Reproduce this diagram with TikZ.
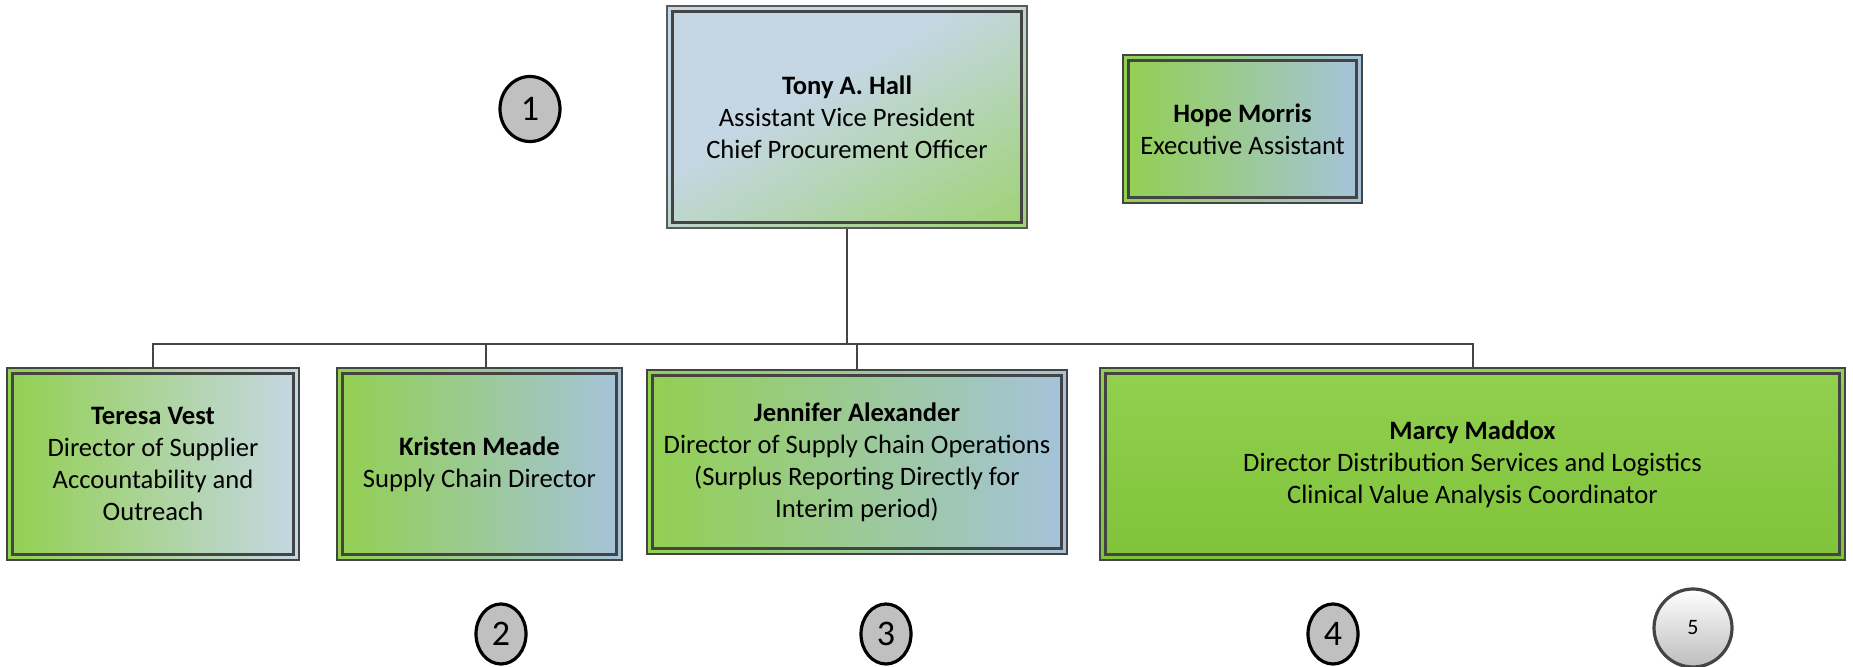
\documentclass[tikz,border=0pt]{standalone}
\usepackage{fontspec}
\setmainfont{Carlito}
\usetikzlibrary{shapes.geometric, calc}

\definecolor{boxgreen}{HTML}{92D050}
\definecolor{deepgreen}{HTML}{80C339}
\definecolor{boxblue}{HTML}{A5C3DC}
\definecolor{paleblue}{HTML}{C5D7E5}
\definecolor{linegrey}{HTML}{444444}
\definecolor{framegrey}{HTML}{5A5A5A}
\definecolor{circgrey}{HTML}{C0C0C0}
\definecolor{ballgrey}{HTML}{BDBDBD}

\pgfdeclarehorizontalshading{tonyshade}{100bp}{color(0bp)=(paleblue); color(42bp)=(paleblue); color(72bp)=(boxgreen!55!paleblue); color(100bp)=(boxgreen)}

\begin{document}
\begin{tikzpicture}[x=0.5pt, y=-0.5pt]
%
% Skiss:
%                 Tony A. Hall            Hope Morris
%                      |
%   ---------------------------------------------------
%   |          |            |                        |
% Teresa     Kristen     Jennifer                  Marcy
%
% Styles
\tikzstyle{person} = [rectangle, draw=linegrey, line width=0.9pt, align=center, inner sep=4pt, font=\fontsize{13.3}{16}\selectfont,
  path picture={\draw[linegrey, line width=1.5pt] ([shift={(2.8pt,-2.8pt)}]path picture bounding box.north west) rectangle ([shift={(-2.8pt,2.8pt)}]path picture bounding box.south east);}]
\tikzstyle{greenblue} = [left color=boxgreen, right color=boxblue]
\tikzstyle{num} = [ellipse, draw=black, line width=1.6pt, fill=circgrey, inner sep=0pt, minimum width=25pt, minimum height=30pt, font=\fontsize{18}{18}\selectfont]
\tikzstyle{ball} = [circle, draw=linegrey, line width=1.6pt, top color=white, bottom color=ballgrey, inner sep=0pt, minimum size=39pt, font=\fontsize{11}{11}\selectfont]
\tikzstyle{line} = [draw=linegrey, line width=1pt]
\useasboundingbox (0,0) rectangle (1853,667);
% Nodes
\node (tony) [person, draw=framegrey, shading=tonyshade, shading angle=-60, minimum width=180pt, minimum height=111pt] at (847,117) {\textbf{Tony A. Hall}\\Assistant Vice President\\Chief Procurement Officer};
\node (hope) [person, greenblue, minimum width=119.5pt, minimum height=74pt] at (1242.5,129) {\textbf{Hope Morris}\\Executive Assistant};
\node (teresa) [person, left color=boxgreen, right color=paleblue, minimum width=146pt, minimum height=96pt] at (153,464) {\textbf{Teresa Vest}\\Director of Supplier\\Accountability and\\Outreach};
\node (kristen) [person, greenblue, minimum width=142.5pt, minimum height=96pt] at (479.5,464) {\textbf{Kristen Meade}\\Supply Chain Director};
\node (jennifer) [person, greenblue, minimum width=210pt, minimum height=92pt] at (857,462) {\textbf{Jennifer Alexander}\\Director of Supply Chain Operations\\(Surplus Reporting Directly for\\Interim period)};
\node (marcy) [person, top color=boxgreen, bottom color=deepgreen, minimum width=372.5pt, minimum height=96pt] at (1472.5,464) {\textbf{Marcy Maddox}\\Director Distribution Services and Logistics\\Clinical Value Analysis Coordinator};
\node (one) [num, minimum width=30pt, minimum height=32.5pt] at (530,109) {1};
\node (two) [num] at (501,634) {2};
\node (three) [num] at (886,634) {3};
\node (four) [num] at (1333,634) {4};
\node (five) [ball] at (1693,628) {5};
% Lines
\coordinate (bus) at (847,344);
\draw [line] (tony.south) -- (bus);
\draw [line] (teresa.north) |- (bus) -| (marcy.north);
\draw [line] ([xshift=3pt]kristen.north) -- ([xshift=3pt]kristen.north |- bus);
\draw [line] (jennifer.north) -- (jennifer.north |- bus);
\end{tikzpicture}
\end{document}
